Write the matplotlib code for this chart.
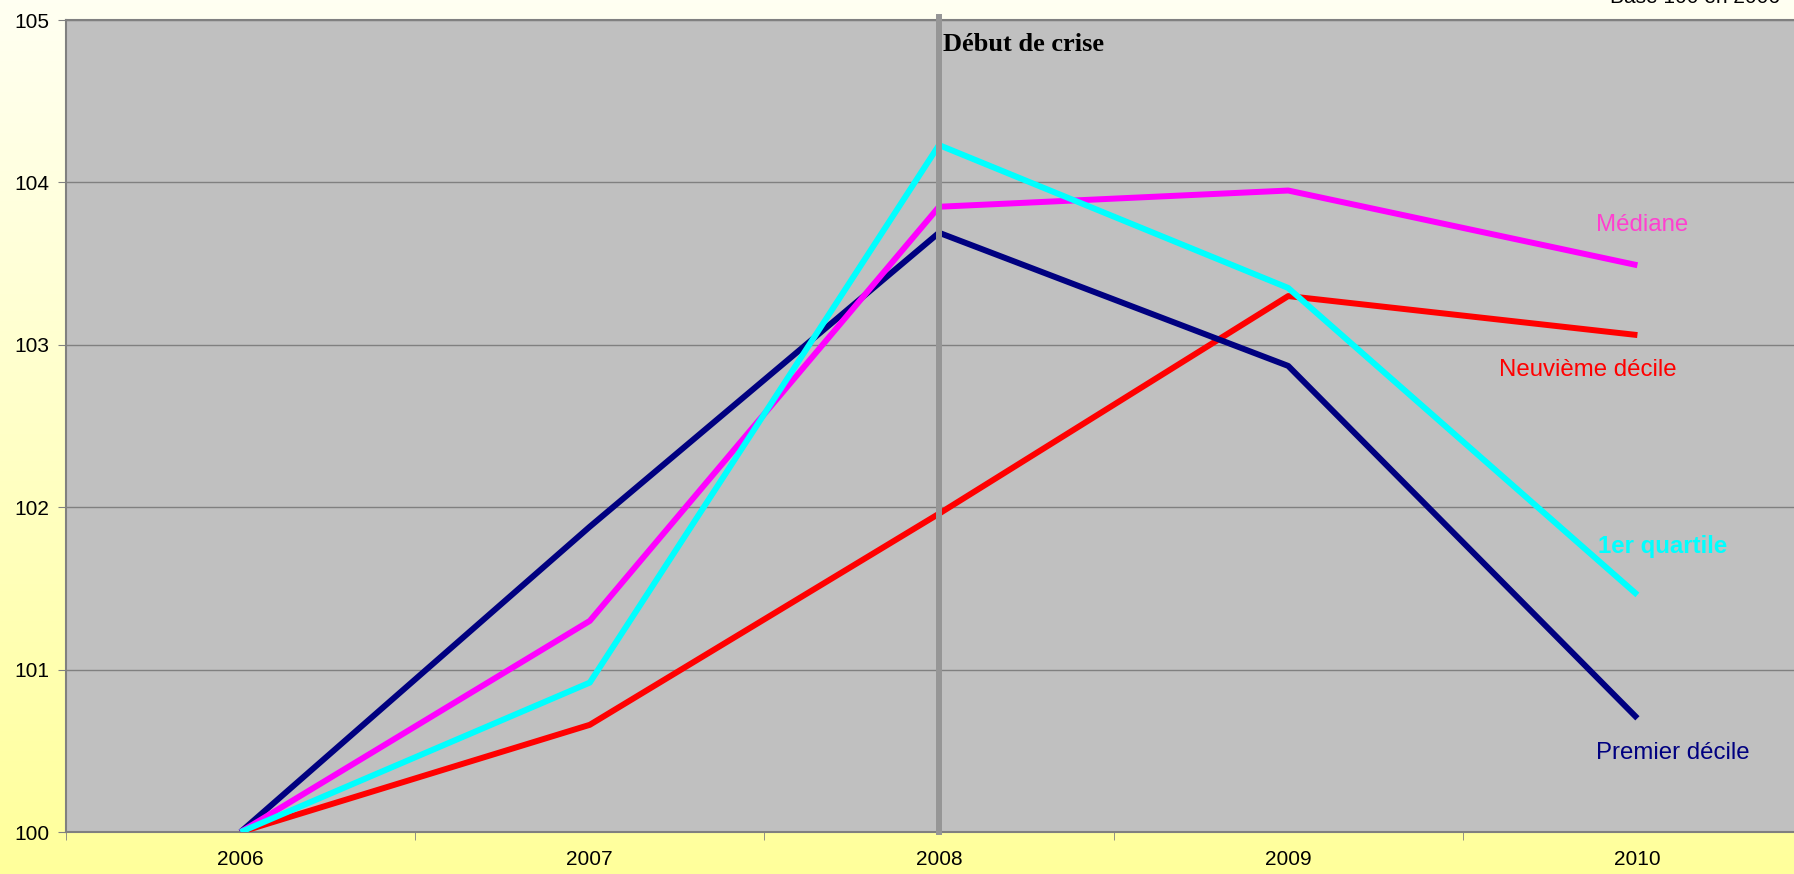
import numpy as np
import matplotlib
matplotlib.use("Agg")
import matplotlib.pyplot as plt

years = ["2006", "2007", "2008", "2009", "2010"]
premier_decile = [100.0, 101.88, 103.69, 102.87, 100.70]
mediane = [100.0, 101.30, 103.85, 103.95, 103.49]
premier_quartile = [100.0, 100.92, 104.23, 103.35, 101.46]
neuvieme_decile = [100.0, 100.66, 101.96, 103.30, 103.06]
series_names = ["Premier décile", "Médiane", "1er quartile", "Neuvième décile"]
y_ticks = [100, 101, 102, 103, 104, 105]

plt.rcParams['font.family'] = ['Liberation Sans', 'DejaVu Sans']

W, H = 1794, 874
fig = plt.figure(figsize=(W / 100, H / 100), dpi=100)

# gradient background
bg = fig.add_axes([0, 0, 1, 1], zorder=-10)
top = np.array([255, 255, 242]) / 255
bot = np.array([255, 255, 155]) / 255
t = np.linspace(0, 1, 256)[:, None]
grad = top[None, :] * (1 - t) + bot[None, :] * t
bg.imshow(np.repeat(grad[:, None, :], 2, axis=1), aspect='auto', extent=[0, 1, 0, 1])
bg.axis('off')

left, right, topp, bottom = 66, 1812, 20, 832
ax = fig.add_axes([left / W, 1 - bottom / H, (right - left) / W, (bottom - topp) / H])
ax.set_facecolor('#C0C0C0')
x = np.arange(len(years))

ax.set_xlim(-0.5, len(years) - 0.5)
ax.set_ylim(100, 105)
ax.set_yticks(y_ticks)
ax.set_yticklabels([str(v) for v in y_ticks], fontsize=15)
ax.set_xticks(x)
ax.set_xticklabels(years, fontsize=15)
ax.tick_params(axis='x', length=0, pad=13)
ax.set_xticks(np.arange(-0.5, len(years), 1), minor=True)
ax.tick_params(axis='x', which='minor', length=6, color='#808080', direction='out')
ax.tick_params(axis='y', length=6, color='#808080', direction='out', pad=6)
ax.grid(axis='y', color='#808080', linewidth=1)
ax.set_axisbelow(True)
for s in ax.spines.values():
    s.set_color('#808080')
    s.set_linewidth(1.5)

lw = 4.3
ax.plot(x, neuvieme_decile, color='#FF0000', lw=lw, solid_capstyle='butt', zorder=3)
ax.plot(x, premier_decile, color='#000080', lw=lw, solid_capstyle='butt', zorder=4)
ax.plot(x, mediane, color='#FF00FF', lw=lw, solid_capstyle='butt', zorder=5)
ax.plot(x, premier_quartile, color='#00FFFF', lw=lw, solid_capstyle='butt', zorder=6)

# crisis line
ax.axvline(2, ymin=0, ymax=1.004, color='#969696', lw=4.3, zorder=7, clip_on=False)
ax.text(2.012, 104.85, "Début de crise", family=['Liberation Serif', 'DejaVu Serif'],
        fontweight='bold', fontsize=19, va='center', ha='left', color='black', zorder=8)

ax.text(4.013, 103.74, series_names[1], color='#FF40D0', fontsize=17.3, ha='center', va='center')
ax.text(3.858, 102.845, series_names[3], color='#FF0000', fontsize=17.3, ha='center', va='center')
ax.text(4.073, 101.755, series_names[2], color='#00FFFF', fontsize=17.3, fontweight='bold',
        ha='center', va='center')
ax.text(4.102, 100.486, series_names[0], color='#000080', fontsize=17.3, ha='center', va='center')

fig.text(1780 / W, 1 - 3 / H, "Base 100 en 2006", fontsize=15, ha='right', va='baseline')

fig.savefig("out.png", dpi=100)
